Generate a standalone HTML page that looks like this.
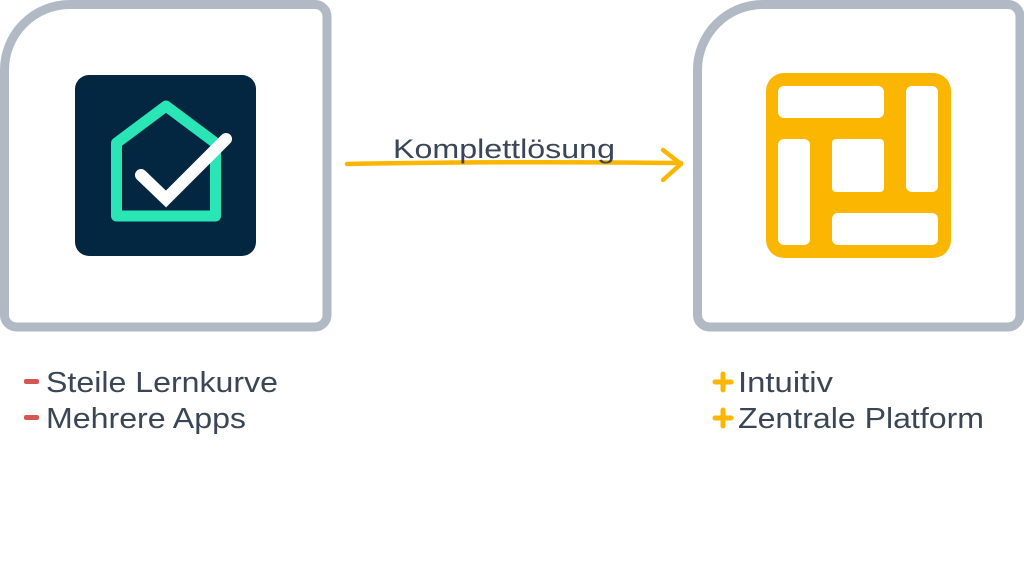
<!DOCTYPE html>
<html><head><meta charset="utf-8"><style>
html,body{margin:0;padding:0;background:#fff;}
svg{display:block}
text{font-family:"Liberation Sans",sans-serif;fill:#3a4656;}
</style></head><body>
<svg width="1024" height="576" viewBox="0 0 1024 576" xmlns="http://www.w3.org/2000/svg">
<rect width="1024" height="576" fill="#fff"/>
<!-- left box -->
<path d="M4.5 70 A65.5 65.5 0 0 1 70 4.5 L315 4.5 A12 12 0 0 1 327 16.5 L327 315 A12 12 0 0 1 315 327 L16.5 327 A12 12 0 0 1 4.5 315 Z" fill="#fff" stroke="#b1bac4" stroke-width="9"/>
<rect x="75" y="75" width="181" height="181" rx="14" fill="#032741"/>
<path d="M116.5 216 L116.5 143 L166 106 L215.5 143 L215.5 216 Z" fill="none" stroke="#2ae5b5" stroke-width="11" stroke-linejoin="round"/>
<path d="M141 175 L166 199 L226 139" fill="none" stroke="#fff" stroke-width="12" stroke-linecap="round" stroke-linejoin="miter"/>
<!-- right box -->
<path d="M697.5 70 A65.5 65.5 0 0 1 763 4.5 L1008 4.5 A12 12 0 0 1 1020 16.5 L1020 315 A12 12 0 0 1 1008 327 L709.5 327 A12 12 0 0 1 697.5 315 Z" fill="#fff" stroke="#b1bac4" stroke-width="9"/>
<rect x="766" y="73" width="185" height="185" rx="18" fill="#fab600"/>
<rect x="778" y="86" width="106" height="32" rx="6" fill="#fff"/>
<rect x="906" y="86" width="32" height="106" rx="6" fill="#fff"/>
<rect x="778" y="139" width="32" height="106" rx="6" fill="#fff"/>
<rect x="832" y="139" width="52" height="53" rx="4" fill="#fff"/>
<rect x="832" y="213" width="106" height="32" rx="6" fill="#fff"/>
<!-- arrow -->
<path d="M347 164 Q500 161 681 163" fill="none" stroke="#fab600" stroke-width="4.5" stroke-linecap="round"/>
<path d="M663 150 L681 164 L663 180" fill="none" stroke="#fab600" stroke-width="4.5" stroke-linecap="round" stroke-linejoin="round"/>
<text x="393" y="158" font-size="27" textLength="222" lengthAdjust="spacingAndGlyphs">Komplettlösung</text>
<!-- left bullets -->
<rect x="24" y="379" width="15" height="5" rx="2" fill="#d65656"/>
<rect x="24" y="415" width="15" height="5" rx="2" fill="#d65656"/>
<text x="46" y="392" font-size="29" textLength="232" lengthAdjust="spacingAndGlyphs">Steile Lernkurve</text>
<text x="46" y="428" font-size="29" textLength="200" lengthAdjust="spacingAndGlyphs">Mehrere Apps</text>
<!-- right bullets -->
<path d="M715 382 h16 M723 374 v16" stroke="#fab600" stroke-width="5" stroke-linecap="round"/>
<path d="M715 418 h16 M723 410 v16" stroke="#fab600" stroke-width="5" stroke-linecap="round"/>
<text x="738" y="392" font-size="29" textLength="95" lengthAdjust="spacingAndGlyphs">Intuitiv</text>
<text x="738" y="428" font-size="29" textLength="246" lengthAdjust="spacingAndGlyphs">Zentrale Platform</text>
</svg>
</body></html>
